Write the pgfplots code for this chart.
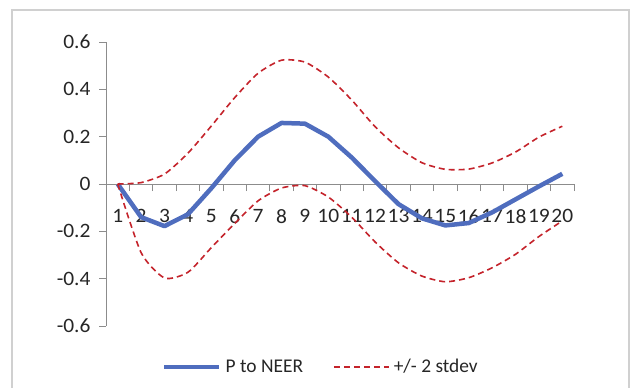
\documentclass[border=0pt]{standalone}
\usepackage{pgfplots}
\pgfplotsset{compat=1.18}
\usepackage{fontspec}
\setmainfont{Carlito}
\newfontfamily\tickfont[FakeStretch=1.05]{Carlito}
\definecolor{blueL}{HTML}{4F6DBE}
\definecolor{redL}{HTML}{C4232B}
\definecolor{axgray}{HTML}{8C8C8C}
\definecolor{framegray}{HTML}{D0D0D0}
\begin{document}
\begin{tikzpicture}[x=1bp,y=1bp]
\useasboundingbox (0,0) rectangle (634,387);
\begin{scope}
\clip (0,0) rectangle (634,387);
\draw[framegray, line width=2bp] (12,-10) rectangle (629,377);
\end{scope}
\begin{axis}[
  at={(106bp,61bp)}, anchor=south west,
  scale only axis, width=468bp, height=284bp,
  xmin=0.5, xmax=20.5, ymin=-0.6, ymax=0.6,
  axis y line*=left, axis x line*=middle,
  axis line style={axgray, line width=1bp, -},
  every tick/.style={axgray, line width=1bp},
  xtick={1,...,20},
  minor xtick={1.5,2.5,...,19.5,20.5},
  major x tick style={draw=none},
  minor tick length=7bp,
  major tick length=7bp,
  tick align=outside,
  ytick={-0.6,-0.4,...,0.6},
  yticklabels={-0.6,-0.4,-0.2,0,0.2,0.4,0.6},
  xticklabels={1,2,3,4,5,6,7,8,9,10,11,12,13,14,15,16,17,18,19,20},
  every tick label/.style={font=\tickfont\fontsize{20.5}{24}\selectfont, text=black!85},
  xticklabel style={yshift=-15bp},
  yticklabel style={xshift=-5bp},
  legend style={at={(0.4615,-0.144)}, anchor=center, draw=none, fill=none,
    legend columns=2, font=\fontsize{19.5}{24}\selectfont, text=black!85,
    /tikz/every even column/.append style={column sep=26bp},
    legend cell align=left, inner xsep=0pt,
    nodes={inner xsep=4bp}},
  legend image code/.code={\draw[#1] (0bp,0bp) -- (55bp,0bp);},
  clip=false,
]
\addplot[blueL, line width=4.5bp, line join=round] coordinates {
(1,0) (2,-0.14) (3,-0.178) (4,-0.128) (5,-0.018) (6,0.1) (7,0.2) (8,0.258) (9,0.255) (10,0.2)
(11,0.112) (12,0.012) (13,-0.085) (14,-0.145) (15,-0.175) (16,-0.165) (17,-0.12) (18,-0.065) (19,-0.01) (20,0.043)};
\addlegendentry{P to NEER}
\addplot[redL, line width=1.6bp, dash pattern=on 6bp off 4bp, smooth, tension=0.4] coordinates {
(1,0) (2,0.006) (3,0.042) (4,0.13) (5,0.245) (6,0.365) (7,0.468) (8,0.523) (9,0.515) (10,0.452)
(11,0.355) (12,0.242) (13,0.153) (14,0.09) (15,0.062) (16,0.063) (17,0.089) (18,0.135) (19,0.198) (20,0.244)};
\addlegendentry{+/- 2 stdev}
\addplot[redL, line width=1.6bp, dash pattern=on 6bp off 4bp, smooth, tension=0.4, forget plot] coordinates {
(1,0) (2,-0.29) (3,-0.397) (4,-0.373) (5,-0.269) (6,-0.167) (7,-0.071) (8,-0.017) (9,-0.007) (10,-0.055)
(11,-0.14) (12,-0.245) (13,-0.333) (14,-0.389) (15,-0.413) (16,-0.396) (17,-0.354) (18,-0.297) (19,-0.222) (20,-0.156)};
\end{axis}
\end{tikzpicture}
\end{document}
